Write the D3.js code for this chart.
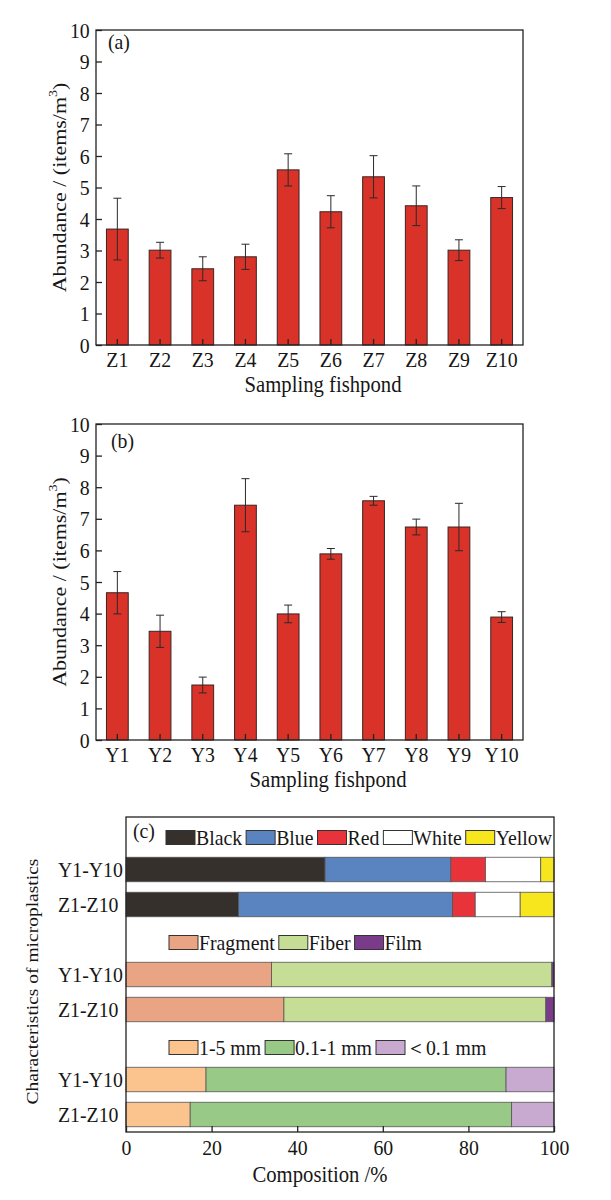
<!DOCTYPE html>
<html lang="en">
<head>
<meta charset="UTF-8" />
<title>Microplastics in fishponds</title>
<script src="https://d3js.org/d3.v7.min.js"></script>
<style>
  body { margin: 0; background: #fff; }
  svg text { font-family: "Liberation Serif", "Times New Roman", serif; fill: #161616; }
  .axis path, .axis line { stroke: #222; stroke-width: 1.3px; }
</style>
</head>
<body>
<svg id="fig" width="611" height="1200"></svg>
<script>
// panel (a) / (b): abundance per fishpond
const zPonds = ["Z1", "Z2", "Z3", "Z4", "Z5", "Z6", "Z7", "Z8", "Z9", "Z10"];
const zMean = [3.68, 3.01, 2.42, 2.8, 5.56, 4.23, 5.34, 4.42, 3.01, 4.68];
const zErr = [0.98, 0.25, 0.38, 0.4, 0.51, 0.51, 0.67, 0.63, 0.33, 0.35];

const yPonds = ["Y1", "Y2", "Y3", "Y4", "Y5", "Y6", "Y7", "Y8", "Y9", "Y10"];
const yMean = [4.66, 3.44, 1.74, 7.43, 3.99, 5.89, 7.57, 6.74, 6.74, 3.89];
const yErr = [0.67, 0.51, 0.25, 0.84, 0.28, 0.17, 0.14, 0.25, 0.75, 0.17];

const abundanceTicks = d3.range(0, 11);

// panel (c): composition, %
const groups = ["Y1-Y10", "Z1-Z10"];
const colorKeys = ["Black", "Blue", "Red", "White", "Yellow"];
const colorFills = ["#35302c", "#5a84bf", "#e8333b", "#ffffff", "#f7e51e"];
const colorY = [46.5, 29.4, 8.1, 12.9, 3.1];
const colorZ = [26.3, 50.0, 5.3, 10.5, 7.9];

const shapeKeys = ["Fragment", "Fiber", "Film"];
const shapeFills = ["#e9a583", "#c5dd94", "#7a3b8b"];
const shapeY = [34.0, 65.5, 0.5];
const shapeZ = [36.9, 61.2, 1.9];

const sizeKeys = ["1-5 mm", "0.1-1 mm", "＜0.1 mm"];
const sizeFills = ["#fbc38d", "#98c987", "#c8a9d0"];
const sizeY = [18.7, 70.1, 11.2];
const sizeZ = [15.0, 75.1, 9.9];

const compTicks = [0, 20, 40, 60, 80, 100];

const SQ = "scale(0.9,1)"; // the original figure is slightly condensed
const svg = d3.select("#fig");

function label(x, y, txt, size, anchor) {
  return svg.append("text")
    .attr("transform", `translate(${x},${y}) ${SQ}`)
    .attr("font-size", size)
    .attr("text-anchor", anchor || "middle")
    .text(txt);
}

function frame(g, w, h) {
  g.append("rect").attr("width", w).attr("height", h)
    .attr("fill", "none").attr("stroke", "#222").attr("stroke-width", 1.3);
}

function drawAbundance(cfg) {
  const { left, right, top, bottom, cats, mean, err } = cfg;
  const w = right - left, h = bottom - top;
  const g = svg.append("g").attr("transform", `translate(${left},${top})`);

  const x = d3.scaleBand().domain(cats).range([0, w])
    .paddingInner(0.49).paddingOuter(0.245);
  const y = d3.scaleLinear().domain([0, 10]).range([h, 0]);

  g.selectAll(".bar").data(cats).join("rect")
    .attr("x", (d) => x(d))
    .attr("y", (d, i) => y(mean[i]))
    .attr("width", x.bandwidth())
    .attr("height", (d, i) => h - y(mean[i]))
    .attr("fill", "#d93229")
    .attr("stroke", "#3b2422")
    .attr("stroke-width", 1);

  const eb = g.selectAll(".err").data(cats).join("g")
    .attr("stroke", "#2a2a2a").attr("stroke-width", 1);
  eb.append("line")
    .attr("x1", (d) => x(d) + x.bandwidth() / 2)
    .attr("x2", (d) => x(d) + x.bandwidth() / 2)
    .attr("y1", (d, i) => y(mean[i] + err[i]))
    .attr("y2", (d, i) => y(mean[i] - err[i]));
  [1, -1].forEach((s) => {
    eb.append("line")
      .attr("x1", (d) => x(d) + x.bandwidth() / 2 - 4)
      .attr("x2", (d) => x(d) + x.bandwidth() / 2 + 4)
      .attr("y1", (d, i) => y(mean[i] + s * err[i]))
      .attr("y2", (d, i) => y(mean[i] + s * err[i]));
  });

  const ax = g.append("g").attr("class", "axis")
    .attr("transform", `translate(0,${h})`)
    .call(d3.axisBottom(x).tickSize(-6).tickPadding(6));
  ax.selectAll("text").attr("font-size", 22).attr("transform", SQ);
  ax.select(".domain").remove();

  const ay = g.append("g").attr("class", "axis")
    .call(d3.axisLeft(y).tickValues(abundanceTicks).tickSize(-6).tickPadding(7));
  ay.selectAll("text").attr("font-size", 22).attr("transform", SQ);
  ay.select(".domain").remove();

  frame(g, w, h);

  label(left + cfg.tagX, top + cfg.tagY, cfg.tag, 22, "start");
  label(cfg.titleX, bottom + 47, "Sampling fishpond", 23);

  const yt = svg.append("text")
    .attr("transform", `translate(66,${top + h / 2}) ${SQ} rotate(-90)`)
    .attr("font-size", 22)
    .attr("text-anchor", "middle");
  yt.append("tspan").text("Abundance / (items/m");
  yt.append("tspan").attr("font-size", 14).attr("dy", "-0.7em").text("3");
  yt.append("tspan").attr("dy", "0.45em").text(")");
}

drawAbundance({ left: 96, right: 523, top: 30, bottom: 345,
  cats: zPonds, mean: zMean, err: zErr, tag: "(a)", tagX: 12, tagY: 19, titleX: 323 });
drawAbundance({ left: 96, right: 523, top: 424, bottom: 740,
  cats: yPonds, mean: yMean, err: yErr, tag: "(b)", tagX: 15, tagY: 24, titleX: 328 });

// panel (c)
(function drawComposition() {
  const left = 126, right = 554, top = 817, bottom = 1132;
  const w = right - left, h = bottom - top;
  const g = svg.append("g").attr("transform", `translate(${left},${top})`);

  const sections = [
    { id: "color", keys: colorKeys, fills: colorFills, vals: [colorY, colorZ], legX: 40 },
    { id: "shape", keys: shapeKeys, fills: shapeFills, vals: [shapeY, shapeZ], legX: 43 },
    { id: "size", keys: sizeKeys, fills: sizeFills, vals: [sizeY, sizeZ], legX: 43 },
  ];
  const rows = [];
  sections.forEach((s) => {
    rows.push(s.id + "-legend");
    groups.forEach((gr) => rows.push(s.id + "|" + gr));
  });

  const x = d3.scaleLinear().domain([0, 100]).range([0, w]);
  const y = d3.scaleBand().domain(rows).range([0, h])
    .paddingInner(0.3).paddingOuter(0.15);

  sections.forEach((s) => {
    groups.forEach((gr, gi) => {
      const row = {};
      s.keys.forEach((k, i) => (row[k] = s.vals[gi][i]));
      const stacked = d3.stack().keys(s.keys)([row]);
      g.selectAll(null).data(stacked).join("rect")
        .attr("x", (d) => x(d[0][0]))
        .attr("width", (d) => x(d[0][1]) - x(d[0][0]))
        .attr("y", y(s.id + "|" + gr))
        .attr("height", y.bandwidth())
        .attr("fill", (d, i) => s.fills[i])
        .attr("stroke", "#555")
        .attr("stroke-width", 0.8);
    });

    // legend row
    const cy = y(s.id + "-legend") + y.bandwidth() / 2 + 3;
    let cx = s.legX;
    s.keys.forEach((k, i) => {
      g.append("rect")
        .attr("x", cx).attr("y", cy - 7)
        .attr("width", 29).attr("height", 14)
        .attr("fill", s.fills[i]).attr("stroke", "#333").attr("stroke-width", 1);
      const t = g.append("text")
        .attr("transform", `translate(${cx + 30},${cy + 7.5}) ${SQ}`)
        .attr("font-size", 22)
        .text(k);
      cx += 30 + t.node().getComputedTextLength() * 0.9 + 4;
    });
  });

  const ax = g.append("g").attr("class", "axis")
    .attr("transform", `translate(0,${h})`)
    .call(d3.axisBottom(x).tickValues(compTicks).tickSize(-6).tickPadding(7));
  ax.selectAll("text").attr("font-size", 22).attr("transform", SQ);
  ax.select(".domain").remove();

  const ay = g.append("g").attr("class", "axis")
    .call(d3.axisLeft(y)
      .tickValues(rows.filter((r) => r.includes("|")))
      .tickFormat((r) => r.split("|")[1])
      .tickSize(0).tickPadding(0));
  ay.selectAll("text").attr("font-size", 22)
    .attr("text-anchor", "start").attr("x", -68 / 0.9).attr("transform", SQ);
  ay.select(".domain").remove();

  frame(g, w, h);

  label(left + 7, top + 21, "(c)", 22, "start");
  label(320, bottom + 50, "Composition /%", 23);

  svg.append("text")
    .attr("transform", `translate(38,${top + h / 2 + 7}) ${SQ} rotate(-90)`)
    .attr("font-size", 19.5)
    .attr("text-anchor", "middle")
    .text("Characteristics of microplastics");
})();
</script>
</body>
</html>
